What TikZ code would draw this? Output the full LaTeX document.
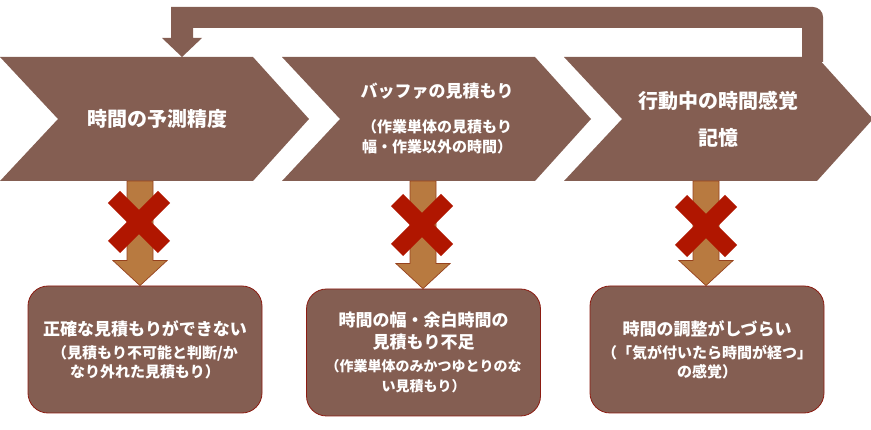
\documentclass[tikz,border=0pt]{standalone}
\usepackage{fontspec}
\setmainfont{Noto Sans CJK JP}
\usetikzlibrary{calc}
\definecolor{flowbrown}{RGB}{132,94,82}
\definecolor{boxline}{RGB}{140,28,18}
\definecolor{arrfill}{RGB}{184,122,64}
\definecolor{arrline}{RGB}{150,66,30}
\definecolor{crossred}{RGB}{176,22,0}
\tikzset{
  chev/.style={fill=flowbrown},
  headtxt/.style={text=white,align=center,inner sep=0pt,font=\bfseries\fontsize{20}{37}\selectfont},
  subtxt/.style={text=white,align=center,inner sep=0pt,font=\bfseries\fontsize{15}{20}\selectfont},
  resbox/.style={draw=boxline,fill=flowbrown,line width=0.8pt,rounded corners=20pt,
    minimum width=234pt,minimum height=127pt,inner sep=0pt,text=white,align=center,
    font=\bfseries\fontsize{15}{19}\selectfont},
  downarr/.style={fill=arrfill,draw=arrline,line width=0.7pt},
  crossbar/.style={draw=crossred,line width=17pt,line cap=butt}
}
\newcommand{\bigline}{\fontsize{17}{19}\selectfont}
\begin{document}
\begin{tikzpicture}[x=1pt,y=-1pt]
\useasboundingbox (0,0) rectangle (871,430);
% feedback arrow over the top
\fill[flowbrown] (802,62) -- (802,28) -- (193,28) -- (193,38) -- (202,38) -- (182,57)
  -- (162,38) -- (171,38) -- (171,7) [rounded corners=10pt] -- (823,7) [sharp corners] -- (823,62) -- cycle;
% chevrons
\foreach \x in {0,282,564}
  \fill[chev] (\x,57) -- (\x+253,57) -- (\x+309,119) -- (\x+253,181) -- (\x,181) -- (\x+58,119) -- cycle;
\node[headtxt] (c1) at (157,119) {時間の予測精度};
\node[headtxt,font=\bfseries\fontsize{17}{20}\selectfont] (c2) at (437,91) {バッファの見積もり};
\node[subtxt] (c2sub) at (437,137) {（作業単体の見積もり\\幅・作業以外の時間）};
\node[headtxt] (c3) at (718,119) {行動中の時間感覚\\記憶};
% result boxes
\node[resbox] (b1) at (145,349.5) {{\bigline 正確な見積もりができない}\\[4pt]（見積もり不可能と判断/か\\なり外れた見積もり）};
\node[resbox,font=\bfseries\fontsize{14}{20}\selectfont] (b2) at (423.5,352.5) {{\bigline 時間の幅・余白時間の}\\[2pt]{\bigline 見積もり不足}\\[3pt]（作業単体のみかつゆとりのな\\い見積もり）};
\node[resbox] (b3) at (707,349.5) {{\bigline 時間の調整がしづらい}\\[4pt]（「気が付いたら時間が経つ」\\の感覚）};
% down arrows
\coordinate (t1) at (140,181);
\coordinate (t2) at (423,181);
\coordinate (t3) at (706,181);
\foreach \i in {1,2,3}
  \draw[downarr] let \p1=(t\i), \p2=(b\i.north) in
    (\x1-13,\y1) -- (\x1+13,\y1) -- (\x1+13,\y2+25) -- (\x1+27,\y2+25) -- (\x1,\y2)
    -- (\x1-27,\y2+25) -- (\x1-13,\y2+25) -- cycle;
% crosses
\foreach \cx/\cy in {139/222,422/225,706/226}{
  \draw[crossbar] (\cx-25,\cy-25) -- (\cx+25,\cy+25);
  \draw[crossbar] (\cx+25,\cy-25) -- (\cx-25,\cy+25);
}
\end{tikzpicture}
\end{document}
